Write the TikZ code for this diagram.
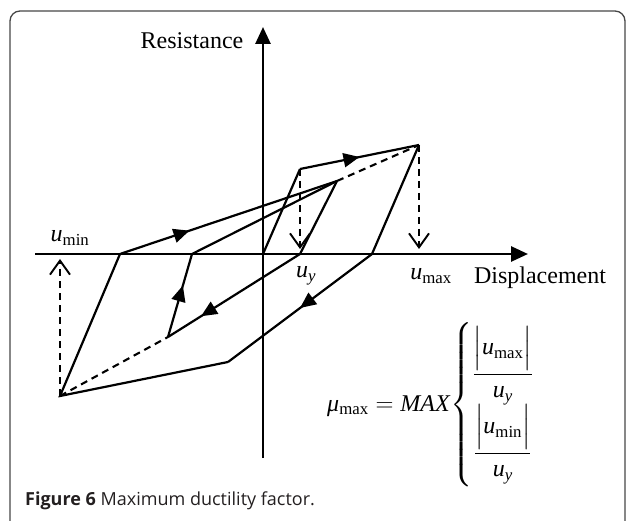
\documentclass[tikz,border=0pt]{standalone}
\usepackage{fontspec}
\setmainfont{Liberation Serif}
\newfontfamily\capfont{Open Sans}
\usepackage{amsmath}
\usetikzlibrary{arrows.meta,decorations.markings}
\definecolor{FrameGray}{RGB}{70,70,70}
\definecolor{CapText}{RGB}{35,31,32}
\newcommand{\uv}[1]{\textit{u}\textsubscript{#1}}

\begin{document}
\begin{tikzpicture}[x=1pt,y=-1pt,
  axis/.style={line width=2.8pt,-{Triangle[length=17pt,width=15pt]}},
  loopline/.style={line width=2.2pt,line join=miter},
  dashline/.style={line width=2.1pt,dash pattern=on 7pt off 5pt},
  droparrow/.style={dashline,-{Straight Barb[length=14pt,width=20pt,line width=1.9pt]}},
  flowarrow/.style={postaction={decorate},decoration={markings,
    mark=at position #1 with {\arrow{Triangle[length=16pt,width=14pt]}}}},
  lbl/.style={font=\fontsize{24}{28}\selectfont,inner sep=0pt},
]
\useasboundingbox (0,0) rectangle (627,521);
\draw[FrameGray,line width=1.3pt,rounded corners=10pt] (10,540) -- (10,11) -- (625,11) -- (625,540);

% axes
\coordinate (xstart) at (35,254);
\coordinate (xend) at (528,254);
\coordinate (ystart) at (263,458);
\coordinate (yend) at (263,27);
\draw[axis] (xstart) -- (xend);
\draw[axis] (ystart) -- (yend);

% loop corners
\coordinate (orig) at (263,254);
\coordinate (yld) at (300,169);
\coordinate (umax) at (419,145);
\coordinate (xcr) at (372,254);
\coordinate (bend) at (228,362);
\coordinate (umin) at (60,396);
\coordinate (acr) at (120,254);
\coordinate (peak) at (337,181);
\coordinate (uy) at (300,254);
\coordinate (ibot) at (168,337);
\coordinate (bcr) at (192,254);

% outer loop
\draw[loopline] (orig) -- (yld);
\draw[loopline,flowarrow=0.5] (yld) -- (umax);
\draw[loopline] (umax) -- (xcr);
\draw[loopline,flowarrow=0.5] (xcr) -- (bend);
\draw[loopline] (bend) -- (umin) -- (acr);
\draw[loopline,flowarrow=0.32] (acr) -- (peak);
% inner loop
\draw[loopline] (peak) -- (uy);
\draw[loopline,flowarrow=0.75] (uy) -- (ibot);
\draw[loopline,flowarrow=0.62] (ibot) -- (bcr);
\draw[loopline] (bcr) -- (peak);
% envelope
\draw[dashline] (peak) -- (umax);
\draw[dashline] (umin) -- (ibot);

% drop lines
\coordinate (umaxfoot) at (419,249);
\coordinate (uyfoot) at (300,249);
\coordinate (uminfoot) at (60,259);
\draw[droparrow] (umax) -- (umaxfoot);
\draw[droparrow] (yld) -- (uyfoot);
\draw[droparrow] (umin) -- (uminfoot);

% labels
\node[lbl] (res) at (192,41) {Resistance};
\node[lbl] (disp) at (540,278) {Displacement};
\node[lbl] (luminl) at (70,238) {\uv{min}};
\node[lbl] (luy) at (306,276) {\uv{\textit{y}}};
\node[lbl] (lumax) at (431,276) {\uv{max}};
\node[lbl,anchor=west] (formula) at (327,405) {$\mbox{\textit{μ}\textsubscript{max}} = \mbox{\textit{MAX}}\!\left\{\begin{array}{@{}c@{}}
  \dfrac{\Big|\mbox{\uv{max}}\Big|}{\mbox{\uv{\textit{y}}}}\\[3pt]
  \dfrac{\Big|\mbox{\uv{min}}\Big|}{\mbox{\uv{\textit{y}}}}
  \end{array}\right.$};

% caption
\node[anchor=west,inner sep=0pt,text=CapText,font=\capfont\fontsize{18}{22}\selectfont] (cap) at (25,501) {\textbf{Figure 6} Maximum ductility factor.};
\end{tikzpicture}
\end{document}
